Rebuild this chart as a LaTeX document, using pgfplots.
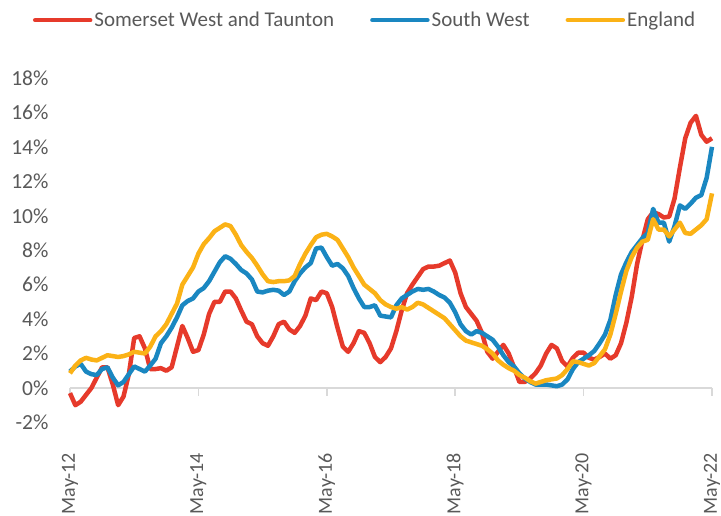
\documentclass[border=0pt]{standalone}
\usepackage{pgfplots}
\pgfplotsset{compat=1.18}
\usepackage{pgfplotstable}
\usepackage{fontspec}
\setmainfont{Carlito}
\definecolor{cred}{HTML}{E63A2B}
\definecolor{cblue}{HTML}{1A87C1}
\definecolor{cyel}{HTML}{FBB216}
\definecolor{ctext}{HTML}{595959}
\definecolor{caxis}{HTML}{D9D9D9}
\pgfplotstableread{
m red blue eng
0 -0.3 0.95 0.85
1 -1.0 1.25 1.3
2 -0.8 1.4 1.6
3 -0.4 0.95 1.75
4 0.0 0.8 1.65
5 0.6 0.75 1.6
6 1.2 1.1 1.75
7 1.2 1.2 1.9
8 0.2 0.6 1.85
9 -1.0 0.15 1.8
10 -0.5 0.35 1.85
11 0.8 0.8 1.95
12 2.9 1.25 2.1
13 3.0 1.1 2.05
14 2.3 0.95 2.0
15 1.1 1.3 2.4
16 1.1 1.7 3.0
17 1.15 2.6 3.3
18 1.0 3.0 3.7
19 1.2 3.5 4.3
20 2.4 4.1 4.9
21 3.6 4.8 6.0
22 2.9 5.05 6.5
23 2.1 5.2 7.0
24 2.2 5.6 7.8
25 3.1 5.8 8.35
26 4.3 6.2 8.7
27 5.0 6.75 9.1
28 5.0 7.3 9.3
29 5.6 7.65 9.5
30 5.6 7.5 9.4
31 5.2 7.2 8.9
32 4.5 6.85 8.3
33 3.85 6.65 7.9
34 3.7 6.3 7.55
35 3.0 5.6 7.1
36 2.6 5.55 6.6
37 2.45 5.65 6.2
38 3.0 5.7 6.15
39 3.7 5.65 6.2
40 3.85 5.4 6.2
41 3.4 5.6 6.25
42 3.2 6.2 6.5
43 3.6 6.65 7.2
44 4.2 7.0 7.8
45 5.2 7.25 8.3
46 5.1 8.1 8.75
47 5.6 8.15 8.9
48 5.5 7.6 8.95
49 4.7 7.1 8.8
50 3.5 7.2 8.6
51 2.4 6.95 8.1
52 2.1 6.5 7.6
53 2.6 5.8 7.0
54 3.3 5.2 6.5
55 3.2 4.7 6.0
56 2.6 4.7 5.75
57 1.8 4.8 5.5
58 1.5 4.2 5.1
59 1.8 4.15 4.85
60 2.3 4.1 4.7
61 3.3 4.8 4.6
62 4.5 5.2 4.7
63 5.5 5.4 4.55
64 6.0 5.6 4.7
65 6.45 5.75 4.95
66 6.9 5.7 4.85
67 7.05 5.75 4.65
68 7.05 5.6 4.45
69 7.1 5.4 4.25
70 7.25 5.25 4.05
71 7.4 4.95 3.7
72 6.7 4.4 3.35
73 5.5 3.7 3.0
74 4.7 3.3 2.75
75 4.3 3.1 2.65
76 3.9 3.3 2.55
77 3.2 3.2 2.45
78 2.1 3.0 2.25
79 1.7 2.8 2.0
80 2.1 2.4 1.6
81 2.5 1.9 1.35
82 2.0 1.5 1.15
83 1.2 1.25 1.0
84 0.35 0.85 0.75
85 0.35 0.55 0.6
86 0.55 0.35 0.4
87 0.85 0.2 0.25
88 1.3 0.2 0.35
89 2.0 0.2 0.45
90 2.5 0.15 0.5
91 2.3 0.1 0.55
92 1.55 0.2 0.75
93 1.25 0.5 1.1
94 1.75 1.1 1.55
95 2.05 1.5 1.5
96 2.05 1.7 1.4
97 1.75 1.9 1.3
98 1.65 2.15 1.45
99 1.8 2.6 1.85
100 2.0 3.1 2.25
101 1.7 3.95 3.1
102 1.9 5.4 4.3
103 2.6 6.6 5.6
104 3.8 7.3 6.8
105 5.3 7.9 7.6
106 7.2 8.3 8.15
107 8.6 8.7 8.5
108 9.8 9.0 8.6
109 10.2 10.4 9.8
110 10.1 9.6 9.2
111 9.9 9.6 9.2
112 9.95 8.5 8.8
113 11.0 9.4 9.2
114 12.8 10.6 9.6
115 14.5 10.4 9.0
116 15.4 10.7 8.95
117 15.8 11.05 9.2
118 14.7 11.2 9.45
119 14.3 12.2 9.8
120 14.5 14.0 11.3
}\datatable
\begin{document}
\begin{tikzpicture}
\useasboundingbox (0,0) rectangle (721pt,515pt);
\begin{axis}[
  anchor=south west, at={(70pt,92.6pt)},
  scale only axis, width=642pt, height=344.4pt,
  xmin=0, xmax=120, ymin=-2, ymax=18,
  clip=false,
  axis line style={draw=none},
  xtick={0,24,48,72,96,120},
  xticklabels={May-12,May-14,May-16,May-18,May-20,May-22},
  ytick={-2,0,2,4,6,8,10,12,14,16,18},
  yticklabels={-2\%,0\%,2\%,4\%,6\%,8\%,10\%,12\%,14\%,16\%,18\%},
  major tick length=0pt,
  tick style={draw=none},
  /pgf/number format/assume math mode=true,
  ticklabel style={font=\fontsize{21.5}{23}\selectfont, text=ctext},
  yticklabel style={anchor=east, xshift=-18pt},
  xticklabel style={font=\fontsize{20}{22}\selectfont, rotate=90, anchor=east, yshift=0pt, xshift=-27pt},
  legend columns=3,
  legend style={at={(-0.058,1.168)}, anchor=west, draw=none, fill=none,
    font=\fontsize{21}{23}\selectfont, text=ctext, inner sep=0pt,
    column sep=0pt,
    /tikz/every even column/.append style={column sep=34pt},
    nodes={inner sep=2pt}},
  legend image code/.code={\draw[#1, line width=4.5pt, line cap=round] (0pt,0pt) -- (55pt,0pt);},
  every axis plot/.append style={line width=4.5pt, line join=round},
]
\draw[caxis, line width=1.5pt] (axis cs:0,0) -- (axis cs:120,0);
\pgfplotsinvokeforeach{0,24,48,72,96,120}{
  \draw[caxis, line width=1.5pt] (axis cs:#1,0) -- ++(0pt,-8pt);
}
\addplot[cred, mark=none] table[x=m, y=red] {\datatable};
\addlegendentry{Somerset West and Taunton}
\addplot[cblue, mark=none] table[x=m, y=blue] {\datatable};
\addlegendentry{South West}
\addplot[cyel, mark=none] table[x=m, y=eng] {\datatable};
\addlegendentry{England}
\end{axis}
\end{tikzpicture}
\end{document}
